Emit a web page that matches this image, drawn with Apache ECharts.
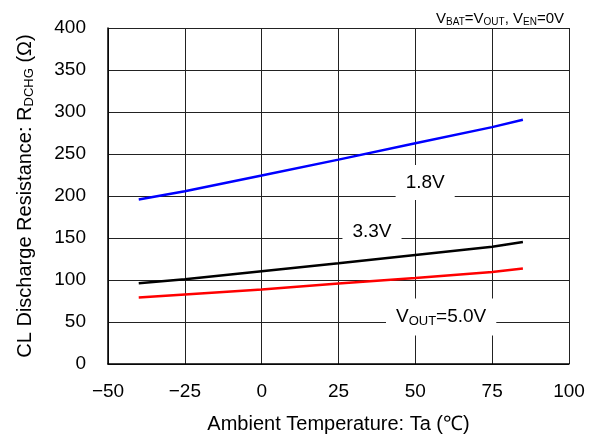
<!DOCTYPE html>
<html>
<head>
<meta charset="utf-8">
<script src="https://cdn.jsdelivr.net/npm/echarts@6/dist/echarts.min.js"></script>
<style>
  html, body { margin: 0; padding: 0; background: #fff; }
  #main { width: 596px; height: 439px; }
</style>
</head>
<body>
<div id="main"></div>
<script>
var myChart = echarts.init(document.getElementById("main"));

// 温度 (°C)
var temps = [-40, -25, 0, 25, 50, 75, 85];
// 放電抵抗 (Ω)
var r18 = [195.8, 205.6, 224.3, 243.3, 262.7, 282, 290.8];
var r33 = [96.1, 100.9, 110.4, 119.9, 129.8, 139.7, 145.2];
var r50 = [79.1, 82.7, 88.6, 95.7, 102.5, 109.6, 113.6];

var seriesNames = ["1.8V", "3.3V", "5.0V"];
var seriesColors = ["#0000ff", "#000000", "#ff0000"];
// label positions in data coordinates
var labelPos = [[53.2, 216], [35.9, 158], [58.4, 56]];
var labelText = ["1.8V", "3.3V", "{n|V}{s|OUT}{n|=5.0V}"];

var font = "Liberation Sans";

function pairs(ys) {
  var out = [];
  for (var i = 0; i < temps.length; i++) out.push([temps[i], ys[i]]);
  return out;
}

var allData = [r18, r33, r50];
var series = [];
for (var k = 0; k < allData.length; k++) {
  series.push({
    name: seriesNames[k],
    type: "line",
    data: pairs(allData[k]),
    symbol: "none",
    lineStyle: { color: seriesColors[k], width: 2.5 },
    z: 3,
    markPoint: {
      symbol: "rect",
      symbolSize: 0,
      silent: true,
      data: [{
        coord: labelPos[k],
        label: {
          show: true,
          position: "inside",
          formatter: labelText[k],
          backgroundColor: "#fff",
          padding: [8, 10, 8, 10],
          color: "#000",
          fontFamily: font,
          fontSize: 19,
          rich: {
            n: { fontFamily: font, fontSize: 19, color: "#000" },
            s: { fontFamily: font, fontSize: 13, color: "#000", verticalAlign: "bottom", padding: [8, 0, 0, 0] }
          }
        }
      }]
    }
  });
}

var option = {
  animation: false,
  backgroundColor: "#fff",
  title: {
    right: 27,
    top: 6,
    text: "{n|V}{s|BAT}{n|=V}{s|OUT}{n|, V}{s|EN}{n|=0V}",
    textStyle: {
      rich: {
        n: { fontFamily: font, fontSize: 15, fontWeight: "normal", color: "#000" },
        s: { fontFamily: font, fontSize: 10, fontWeight: "normal", color: "#000", verticalAlign: "bottom", padding: [6, 0, 0, 0] }
      }
    }
  },
  grid: { left: 108, right: 27, top: 28, bottom: 74 },
  xAxis: {
    type: "value",
    min: -50,
    max: 100,
    interval: 25,
    name: "Ambient Temperature: Ta (℃)",
    nameLocation: "middle",
    nameGap: 50,
    nameTextStyle: { fontFamily: font, fontSize: 20, color: "#000" },
    axisLine: { onZero: false, lineStyle: { color: "#000", width: 1.5 } },
    axisTick: { show: false },
    axisLabel: {
      fontFamily: font, fontSize: 19, color: "#000", margin: 18,
      formatter: function (v) { return v < 0 ? "\u2212" + Math.abs(v) : String(v); }
    },
    splitLine: { show: true, lineStyle: { color: "#222", width: 1 } }
  },
  yAxis: {
    type: "value",
    min: 0,
    max: 400,
    interval: 50,
    name: "{n|CL Discharge Resistance: R}{s|DCHG}{n| (Ω)}",
    nameLocation: "middle",
    nameGap: 72,
    nameTextStyle: {
      rich: {
        n: { fontFamily: font, fontSize: 20, color: "#000" },
        s: { fontFamily: font, fontSize: 13, color: "#000", verticalAlign: "bottom", padding: [9, 0, 0, 0] }
      }
    },
    axisLine: { show: true, onZero: false, lineStyle: { color: "#000", width: 1.5 } },
    axisTick: { show: false },
    axisLabel: { fontFamily: font, fontSize: 19, color: "#000", margin: 22 },
    splitLine: { show: true, lineStyle: { color: "#222", width: 1 } }
  },
  series: series
};

myChart.setOption(option);
</script>
</body>
</html>
